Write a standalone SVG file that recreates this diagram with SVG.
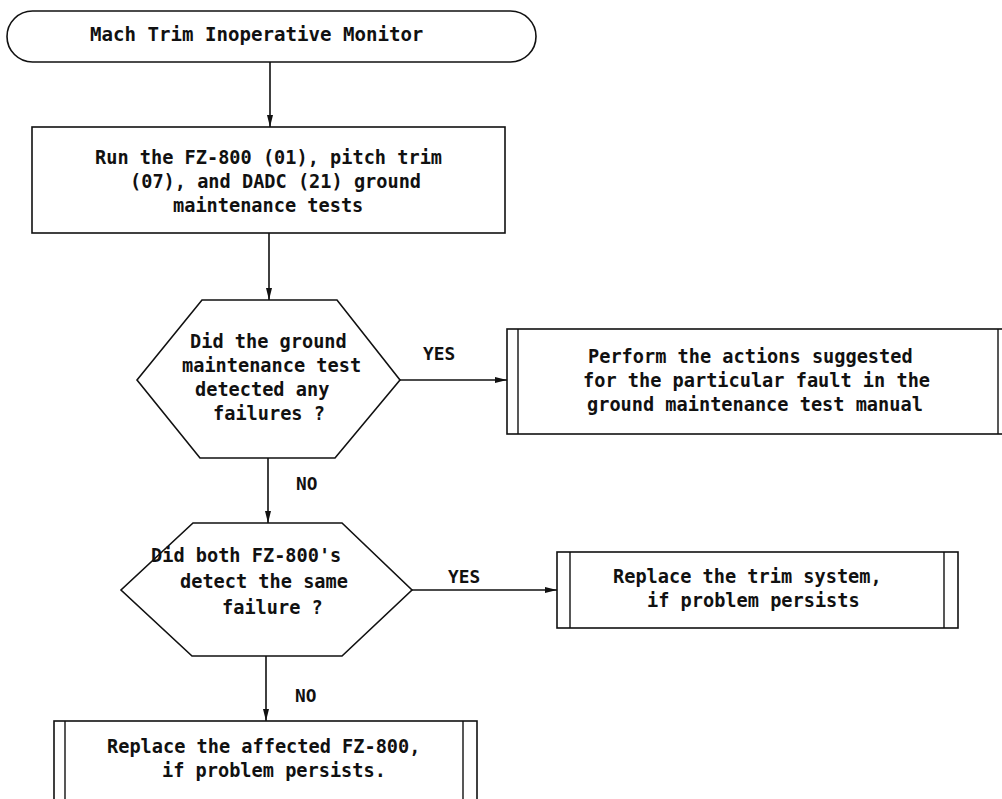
<svg xmlns="http://www.w3.org/2000/svg" width="1002" height="799" viewBox="0 0 1002 799">
  <defs>
    <style>
      .shape { fill: #ffffff; stroke: #111111; stroke-width: 1.6; }
      .edge { fill: none; stroke: #111111; stroke-width: 1.6; }
      .bar { stroke: #111111; stroke-width: 1.4; }
      text { font-family: "DejaVu Sans Mono", "Liberation Mono", monospace; font-size: 18.6px; font-weight: bold; fill: #111111; }
      .title { font-size: 19.1px; }
      .lbl { font-size: 17.8px; }
    </style>
    <marker id="arrow" viewBox="0 0 12 8" refX="12" refY="4" markerWidth="12" markerHeight="8" markerUnits="userSpaceOnUse" orient="auto">
      <path d="M0,1 L12,4 L0,7 Z" fill="#111111"/>
    </marker>
  </defs>

  <rect width="1002" height="799" fill="#ffffff"/>

  <!-- connectors -->
  <g id="connectors">
    <line class="edge" x1="270" y1="62" x2="270" y2="127" marker-end="url(#arrow)"/>
    <line class="edge" x1="269" y1="233" x2="269" y2="300" marker-end="url(#arrow)"/>
    <line class="edge" x1="400" y1="380" x2="507" y2="380" marker-end="url(#arrow)"/>
    <text class="lbl" x="423" y="360">YES</text>
    <line class="edge" x1="268" y1="458" x2="268" y2="523" marker-end="url(#arrow)"/>
    <text class="lbl" x="296" y="490">NO</text>
    <line class="edge" x1="412" y1="590" x2="557" y2="590" marker-end="url(#arrow)"/>
    <text class="lbl" x="448" y="583">YES</text>
    <line class="edge" x1="266" y1="656" x2="266" y2="721" marker-end="url(#arrow)"/>
    <text class="lbl" x="295" y="702">NO</text>
  </g>

  <!-- start terminator -->
  <g id="start">
    <rect class="shape" x="7" y="11" width="529" height="51" rx="25.5" ry="25.5"/>
    <text class="title" x="90" y="41">Mach Trim Inoperative Monitor</text>
  </g>

  <!-- run tests -->
  <g id="run-tests">
    <rect class="shape" x="32" y="127" width="473" height="106"/>
    <text x="95" y="164">Run the FZ-800 (01), pitch trim</text>
    <text x="130" y="188">(07), and DADC (21) ground</text>
    <text x="173" y="212">maintenance tests</text>
  </g>

  <!-- decision: ground test failures -->
  <g id="decision-ground-test">
    <polygon class="shape" points="202,300 337,300 400,380 335,458 200,458 137,380"/>
    <text x="190" y="348">Did the ground</text>
    <text x="182" y="372">maintenance test</text>
    <text x="195" y="396">detected any</text>
    <text x="213" y="420">failures ?</text>
  </g>

  <!-- predefined process: follow manual -->
  <g id="perform-actions">
    <rect class="shape" x="507" y="329" width="505" height="105"/>
    <line class="bar" x1="518" y1="329" x2="518" y2="434"/>
    <line class="bar" x1="998" y1="329" x2="998" y2="434"/>
    <text x="588" y="363">Perform the actions suggested</text>
    <text x="583" y="387">for the particular fault in the</text>
    <text x="587" y="411">ground maintenance test manual</text>
  </g>

  <!-- decision: both FZ-800s -->
  <g id="decision-both-fz800">
    <polygon class="shape" points="193,523 342,523 412,590 342,656 192,656 121,590"/>
    <text x="151" y="562">Did both FZ-800's</text>
    <text x="180" y="588">detect the same</text>
    <text x="222" y="614">failure ?</text>
  </g>

  <!-- predefined process: replace trim system -->
  <g id="replace-trim">
    <rect class="shape" x="557" y="552" width="401" height="76"/>
    <line class="bar" x1="570" y1="552" x2="570" y2="628"/>
    <line class="bar" x1="944" y1="552" x2="944" y2="628"/>
    <text x="613" y="583">Replace the trim system,</text>
    <text x="647" y="607">if problem persists</text>
  </g>

  <!-- predefined process: replace FZ-800 -->
  <g id="replace-fz800">
    <rect class="shape" x="54" y="721" width="423" height="100"/>
    <line class="bar" x1="65" y1="721" x2="65" y2="821"/>
    <line class="bar" x1="463" y1="721" x2="463" y2="821"/>
    <text x="107" y="753">Replace the affected FZ-800,</text>
    <text x="162" y="777">if problem persists.</text>
  </g>
</svg>
